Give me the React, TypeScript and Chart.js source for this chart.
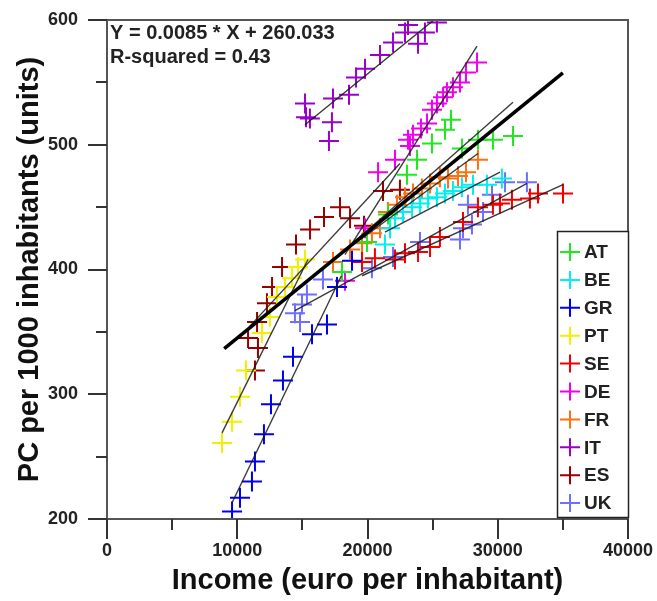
import React, { useEffect, useRef } from "react";
import { Chart, registerables } from "chart.js";

Chart.register(...registerables);

const countries = ["AT", "BE", "GR", "PT", "SE", "DE", "FR", "IT", "ES", "UK"];
const colors = ["#1fe81f", "#00f0f0", "#0000f0", "#f0f000", "#f00000", "#f000f0", "#ff7010", "#9a00cc", "#990000", "#6f6fff"];

const atIncome = [18040, 19960, 21570, 23030, 23800, 24950, 25950, 26410, 27250, 28480, 29630, 31170];
const atPC = [398, 422, 444, 476, 488, 501, 512, 520, 497, 504, 504, 507];
const beIncome = [21340, 21730, 22110, 22720, 23420, 24030, 24640, 25330, 25950, 26560, 27250, 28100, 29170, 30320];
const bePC = [420, 433, 441, 446, 450, 453, 457, 458, 461, 463, 466, 468, 468, 473];
const grIncome = [9600, 10210, 11130, 11360, 12050, 12590, 13510, 14280, 15740, 16890, 17660, 18810];
const grPC = [206, 217, 230, 246, 268, 292, 311, 330, 348, 356, 386, 407];
const ptIncome = [8830, 9600, 10210, 10670, 11900, 12500, 13050, 13670, 14200, 14660, 15200];
const ptPC = [261, 278, 298, 319, 349, 362, 378, 386, 393, 402, 408];
const seIncome = [19580, 20570, 22110, 22880, 23880, 24800, 25560, 27330, 28480, 29630, 30170, 31090, 32470, 33090, 35010];
const sePC = [406, 409, 408, 413, 414, 418, 426, 438, 450, 452, 453, 456, 457, 461, 461];
const deIncome = [18270, 19810, 20810, 22110, 23260, 23110, 23490, 24110, 24570, 24950, 25330, 25800, 26100, 26560, 27100, 27560, 28410];
const dePC = [391, 433, 478, 488, 499, 504, 508, 513, 517, 528, 533, 538, 542, 546, 550, 558, 566];
const frIncome = [17350, 18660, 19580, 20340, 20960, 21570, 22260, 22880, 23490, 24180, 24800, 25560, 26180, 26950, 27560, 28480];
const frPC = [406, 416, 421, 429, 433, 446, 452, 458, 461, 465, 469, 474, 473, 475, 478, 488];
const itIncome = [15200, 15280, 15580, 17270, 17040, 17350, 18580, 19120, 19810, 20960, 21960, 22880, 23110, 23880, 24410, 25330];
const itPC = [533, 522, 521, 518, 503, 537, 540, 554, 561, 572, 582, 590, 596, 581, 590, 598];
const esIncome = [11360, 11590, 10830, 11520, 12280, 12670, 13440, 14510, 15590, 16660, 17890, 18660, 19730, 21190, 22490];
const esPC = [319, 337, 345, 358, 373, 386, 402, 420, 432, 442, 450, 441, 435, 463, 464];
const ukIncome = [14820, 14430, 14970, 15350, 16580, 20340, 21960, 24030, 27100, 27330, 28020, 28870, 27710, 29560, 30560, 32240];
const ukPC = [358, 365, 372, 380, 392, 401, 410, 422, 424, 433, 436, 446, 452, 460, 470, 470];

const incomes = [atIncome, beIncome, grIncome, ptIncome, seIncome, deIncome, frIncome, itIncome, esIncome, ukIncome];
const pcs = [atPC, bePC, grPC, ptPC, sePC, dePC, frPC, itPC, esPC, ukPC];

// per-country fitted line end points (income, pc)
const fitX0 = [17890, 21340, 9600, 8830, 19580, 18270, 17350, 15200, 10830, 14430];
const fitY0 = [412, 430, 213, 269, 395, 412, 408, 516, 353, 367];
const fitX1 = [31170, 30170, 18000, 15430, 35010, 28410, 28480, 25330, 22490, 32240];
const fitY1 = [534, 478, 395, 408, 468, 579, 493, 602, 485, 469];

// overall regression
const overallSlope = 0.0085;
const overallIntercept = 260.033;
const overallX = [9000, 35000];
const annotationLines = ["Y = 0.0085 * X + 260.033", "R-squared = 0.43"];

const xTicks = [0, 10000, 20000, 30000, 40000];
const yTicks = [200, 300, 400, 500, 600];

const FONT = "'Liberation Sans', Arial, sans-serif";

const decorPlugin = {
  id: "decor",
  afterDraw(chart: any) {
    const ctx = chart.ctx;
    const { left, right, top, bottom } = chart.chartArea;
    const xs = chart.scales.x;
    const ys = chart.scales.y;
    ctx.save();
    // frame
    ctx.strokeStyle = "#555";
    ctx.lineWidth = 2;
    ctx.strokeRect(left, top, right - left, bottom - top);
    // ticks
    ctx.strokeStyle = "#333";
    ctx.lineWidth = 2;
    for (let v = 0; v <= 40000; v += 5000) {
      const px = Math.round(xs.getPixelForValue(v));
      const len = v % 10000 === 0 ? 20 : 11;
      ctx.beginPath();
      ctx.moveTo(px, bottom);
      ctx.lineTo(px, bottom + len);
      ctx.stroke();
    }
    for (let v = 200; v <= 600; v += 50) {
      const py = Math.round(ys.getPixelForValue(v));
      const len = v % 100 === 0 ? 19 : 11;
      ctx.beginPath();
      ctx.moveTo(left, py);
      ctx.lineTo(left - len, py);
      ctx.stroke();
    }
    // annotation
    ctx.fillStyle = "#222";
    ctx.font = `bold 20px ${FONT}`;
    ctx.textBaseline = "alphabetic";
    ctx.textAlign = "left";
    ctx.fillText(annotationLines[0], left + 3, 39);
    ctx.fillText(annotationLines[1], left + 3, 63);
    // legend
    const lx = 557, ly = 231, lw = right - 557, lh = 286;
    ctx.fillStyle = "#fff";
    ctx.fillRect(lx, ly, lw, lh);
    ctx.strokeStyle = "#222";
    ctx.lineWidth = 1.5;
    ctx.strokeRect(lx + 0.5, ly + 0.5, lw, lh);
    ctx.font = `bold 19px ${FONT}`;
    ctx.textBaseline = "middle";
    countries.forEach((c, i) => {
      const cy = 252 + i * 27.9;
      const cx = 570;
      ctx.strokeStyle = colors[i];
      ctx.lineWidth = 2;
      ctx.beginPath();
      ctx.moveTo(cx - 10, cy);
      ctx.lineTo(cx + 10, cy);
      ctx.moveTo(cx, cy - 9);
      ctx.lineTo(cx, cy + 9);
      ctx.stroke();
      ctx.fillStyle = "#222";
      ctx.fillText(c, 584, cy + 1);
    });
    ctx.restore();
  },
};

export default function App() {
  const ref = useRef<HTMLCanvasElement | null>(null);
  useEffect(() => {
    if (!ref.current) return;
    const pointSets = countries.map((c, i) => ({
      type: "scatter" as const,
      label: c,
      data: incomes[i].map((x, j) => ({ x, y: pcs[i][j] })),
      pointStyle: "cross",
      pointRadius: 10,
      pointBorderWidth: 2,
      borderColor: colors[i],
      backgroundColor: colors[i],
      showLine: false,
      order: 2,
    }));
    const fitSets = countries.map((c, i) => ({
      type: "line" as const,
      label: c + " fit",
      data: [
        { x: fitX0[i], y: fitY0[i] },
        { x: fitX1[i], y: fitY1[i] },
      ],
      borderColor: "rgba(25,25,25,0.85)",
      borderWidth: 1.4,
      pointRadius: 0,
      showLine: true,
      fill: false,
      order: 1,
    }));
    const overallSet = {
      type: "line" as const,
      label: "overall",
      data: overallX.map((x) => ({ x, y: overallSlope * x + overallIntercept })),
      borderColor: "#000",
      borderWidth: 3.5,
      pointRadius: 0,
      showLine: true,
      fill: false,
      order: 0,
    };
    const chart = new Chart(ref.current, {
      type: "scatter",
      data: { datasets: [overallSet, ...fitSets, ...pointSets] as any },
      options: {
        responsive: false,
        animation: false,
        devicePixelRatio: 1,
        layout: { padding: { left: 0, right: 29, top: 20, bottom: 0 } },
        plugins: { legend: { display: false }, tooltip: { enabled: false } },
        scales: {
          x: {
            type: "linear",
            min: 0,
            max: 40000,
            afterBuildTicks: (s: any) => {
              s.ticks = xTicks.map((v) => ({ value: v }));
            },
            afterFit: (s: any) => {
              s.height = 82;
              s.paddingLeft = 0;
              s.paddingRight = 0;
            },
            grid: { display: false },
            border: { display: false },
            ticks: {
              font: { family: FONT, size: 18, weight: "bold" },
              color: "#222",
              padding: 13,
              maxRotation: 0,
              callback: (v: any) => String(v),
            },
            title: {
              display: true,
              text: "Income (euro per inhabitant)",
              font: { family: FONT, size: 29, weight: "bold" },
              color: "#111",
              padding: { top: 0, bottom: 3 },
            },
          },
          y: {
            type: "linear",
            min: 200,
            max: 600,
            afterBuildTicks: (s: any) => {
              s.ticks = yTicks.map((v) => ({ value: v }));
            },
            afterFit: (s: any) => {
              s.width = 107;
              s.paddingTop = 0;
              s.paddingBottom = 0;
            },
            grid: { display: false },
            border: { display: false },
            ticks: {
              font: { family: FONT, size: 18, weight: "bold" },
              color: "#222",
              padding: 21,
              callback: (v: any) => String(v),
            },
            title: {
              display: true,
              text: "PC per 1000 inhabitants (units)",
              font: { family: FONT, size: 29, weight: "bold" },
              color: "#111",
              padding: { top: 13, bottom: 0 },
            },
          },
        },
      },
      plugins: [decorPlugin],
    });
    return () => chart.destroy();
  }, []);
  return (
    <div style={{ position: "absolute", left: 0, top: 0, width: 657, height: 601, background: "#fff" }}>
      <canvas ref={ref} width={657} height={601} />
    </div>
  );
}
